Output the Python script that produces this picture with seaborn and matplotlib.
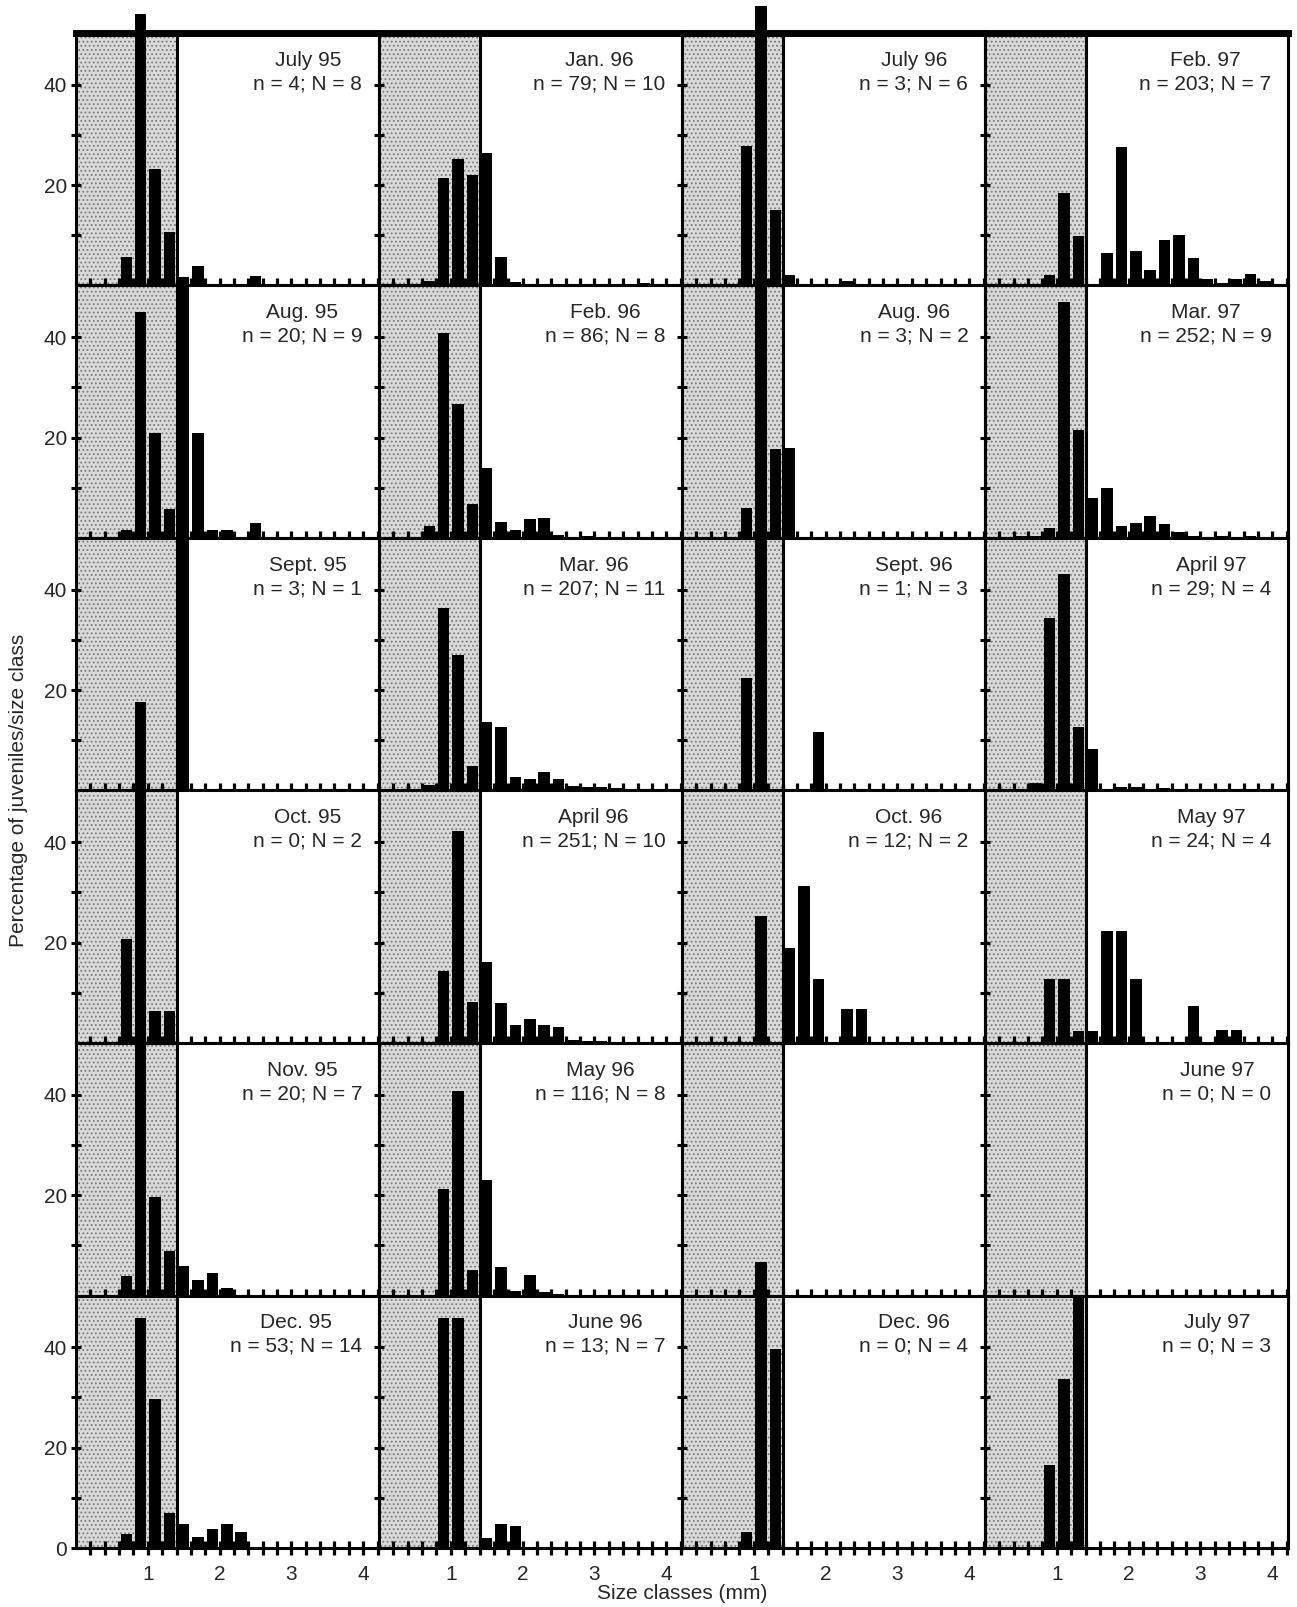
import numpy as np
import matplotlib
matplotlib.use("Agg")
import matplotlib.pyplot as plt
import seaborn as sns

# size classes (mm), bin centres of 0.2 mm classes
size_class = [0.1, 0.3, 0.5, 0.7, 0.9, 1.1, 1.3, 1.5, 1.7, 1.9, 2.1,
              2.3, 2.5, 2.7, 2.9, 3.1, 3.3, 3.5, 3.7, 3.9, 4.1]
bin_edges = [0.0, 0.2, 0.4, 0.6, 0.8, 1.0, 1.2, 1.4, 1.6, 1.8, 2.0, 2.2,
             2.4, 2.6, 2.8, 3.0, 3.2, 3.4, 3.6, 3.8, 4.0, 4.2]

# percentage of juveniles per size class, one list per monthly sample
jul95 = [0, 0, 0, 5.6, 54, 23.2, 10.6, 1.7, 3.8, 0, 0, 0, 1.8, 0, 0, 0, 0, 0, 0, 0, 0]
aug95 = [0, 0, 0, 1.5, 45, 21, 5.8, 51.5, 21, 1.5, 1.5, 0, 3, 0, 0, 0, 0, 0, 0, 0, 0]
sep95 = [0, 0, 0, 0, 17.7, 0, 0, 51.5, 0, 0, 0, 0, 0, 0, 0, 0, 0, 0, 0, 0, 0]
oct95 = [0, 0, 0, 20.7, 51.5, 6.3, 6.3, 0, 0, 0, 0, 0, 0, 0, 0, 0, 0, 0, 0, 0, 0]
nov95 = [0, 0, 0, 3.9, 51.5, 19.7, 8.8, 5.8, 3, 4.5, 1.4, 0, 0, 0, 0, 0, 0, 0, 0, 0, 0]
dec95 = [0, 0, 0, 2.8, 45.8, 29.7, 7, 4.8, 2.1, 3.7, 4.8, 3.2, 0, 0, 0, 0, 0, 0, 0, 0, 0]

jan96 = [0, 0, 0, 0.9, 21.5, 25.2, 22, 26.4, 5.6, 0.7, 0, 0, 0, 0, 0, 0, 0, 0, 0.5, 0, 0]
feb96 = [0, 0, 0, 2.4, 40.8, 26.7, 6.7, 14, 3.2, 1.5, 3.8, 4, 0.5, 0, 0.4, 0, 0, 0, 0, 0, 0]
mar96 = [0, 0, 0, 1.1, 36.4, 27, 4.9, 13.6, 12.6, 2.6, 2.2, 3.7, 2.2, 0.8, 0.6, 0.6, 0.5, 0, 0, 0, 0]
apr96 = [0, 0, 0, 0, 14.3, 42.2, 8.1, 16.2, 7.9, 3.5, 4.7, 3.6, 3.2, 0.6, 0.4, 0.4, 0, 0, 0, 0, 0]
may96 = [0, 0, 0, 0, 21.3, 40.7, 5.1, 23, 5.6, 0.8, 4, 0.6, 0.3, 0, 0, 0, 0, 0, 0, 0, 0]
jun96 = [0, 0, 0, 0, 45.8, 45.8, 0, 1.9, 4.8, 4.3, 0, 0, 0, 0, 0, 0, 0, 0, 0, 0, 0]

jul96 = [0, 0, 0, 0, 27.7, 55.7, 15, 2, 0, 0, 0, 0.9, 0, 0, 0, 0, 0, 0, 0, 0, 0]
aug96 = [0, 0, 0, 0, 6, 51.5, 17.8, 17.9, 0, 0, 0, 0, 0, 0, 0, 0, 0, 0, 0, 0, 0]
sep96 = [0, 0, 0, 0, 22.4, 51.5, 0, 0, 0, 11.6, 0, 0, 0, 0, 0, 0, 0, 0, 0, 0, 0]
oct96 = [0, 0, 0, 0, 0, 25.2, 0, 18.9, 31.3, 12.7, 0, 6.7, 6.7, 0, 0, 0, 0, 0, 0, 0, 0]
nov96 = [0] * 21
dec96 = [0, 0, 0, 0, 3.2, 57, 39.7, 0, 0, 0, 0, 0, 0, 0, 0, 0, 0, 0, 0, 0, 0]

feb97 = [0, 0, 0, 0, 2.1, 18.5, 9.9, 0, 6.5, 27.5, 6.9, 3.1, 9, 10, 5.5, 1.2, 0.5, 1.2, 2.3, 0.8, 0]
mar97 = [0, 0, 0.3, 0.3, 2, 47, 21.5, 8, 10, 2.3, 3, 4.3, 2.7, 1.2, 0.3, 0, 0.3, 0, 0.3, 0, 0]
apr97 = [0, 0, 0, 1.5, 34.4, 43.2, 12.7, 8.3, 0, 0.6, 0.6, 0, 0.4, 0, 0, 0, 0, 0, 0, 0, 0]
may97 = [0, 0, 0, 0, 12.7, 12.7, 2.4, 2.4, 22.4, 22.4, 12.7, 0, 0, 0, 7.4, 0, 2.5, 2.5, 0, 0, 0]
jun97 = [0] * 21
jul97 = [0, 0, 0, 0, 16.6, 33.6, 50.5, 0, 0, 0, 0, 0, 0, 0, 0, 0, 0, 0, 0, 0, 0]

# labels, column by column
col1_labels = ["July 95\nn = 4; N = 8", "Aug. 95\nn = 20; N = 9", "Sept. 95\nn = 3; N = 1",
               "Oct. 95\nn = 0; N = 2", "Nov. 95\nn = 20; N = 7", "Dec. 95\nn = 53; N = 14"]
col2_labels = ["Jan. 96\nn = 79; N = 10", "Feb. 96\nn = 86; N = 8", "Mar. 96\nn = 207; N = 11",
               "April 96\nn = 251; N = 10", "May 96\nn = 116; N = 8", "June 96\nn = 13; N = 7"]
col3_labels = ["July 96\nn = 3; N = 6", "Aug. 96\nn = 3; N = 2", "Sept. 96\nn = 1; N = 3",
               "Oct. 96\nn = 12; N = 2", "", "Dec. 96\nn = 0; N = 4"]
col4_labels = ["Feb. 97\nn = 203; N = 7", "Mar. 97\nn = 252; N = 9", "April 97\nn = 29; N = 4",
               "May 97\nn = 24; N = 4", "June 97\nn = 0; N = 0", "July 97\nn = 0; N = 3"]

columns = [
    (col1_labels, [jul95, aug95, sep95, oct95, nov95, dec95]),
    (col2_labels, [jan96, feb96, mar96, apr96, may96, jun96]),
    (col3_labels, [jul96, aug96, sep96, oct96, nov96, dec96]),
    (col4_labels, [feb97, mar97, apr97, may97, jun97, jul97]),
]

juvenile_limit = 1.4

sns.set_theme(style="ticks")
plt.rcParams["font.family"] = ["Liberation Sans", "DejaVu Sans"]
plt.rcParams["hatch.linewidth"] = 0.8

fig = plt.figure(figsize=(12.97, 16.07), dpi=100)
axes = fig.subplots(6, 4, gridspec_kw=dict(hspace=0, wspace=0))
fig.subplots_adjust(left=0.0586, right=0.9931, bottom=0.0367, top=0.9795)

for c, (labels, series) in enumerate(columns):
    for r in range(6):
        ax = axes[r, c]
        ax.axvspan(0, juvenile_limit, facecolor="#d9d9d9", edgecolor="#7a7a7a",
                   hatch="....", linewidth=0, zorder=0)
        ax.axvline(juvenile_limit, color="black", lw=2.2, zorder=2)
        sns.histplot(x=size_class, weights=series[r], bins=bin_edges, shrink=0.8,
                     color="black", alpha=1, edgecolor="none", linewidth=0,
                     ax=ax, clip_on=False, zorder=3)
        ax.set_xlim(0, 4.22)
        ax.set_ylim(0, 50.3)
        ax.set_xlabel("")
        ax.set_ylabel("")

        xt = np.round(np.arange(0.2, 4.21, 0.2), 1)
        ax.set_xticks(xt)
        if r == 5:
            ax.set_xticklabels([str(int(v)) if abs(v - round(v)) < 1e-6 else "" for v in xt],
                               fontsize=15)
        else:
            ax.set_xticklabels([])
        ax.tick_params(axis="x", direction="inout", length=10, width=2.3,
                       color="black", pad=7)

        if r == 5:
            ax.set_yticks([0, 10, 20, 30, 40])
            ylab = ["0", "", "20", "", "40"]
        else:
            ax.set_yticks([10, 20, 30, 40])
            ylab = ["", "20", "", "40"]
        if c == 0:
            ax.set_yticklabels(ylab, fontsize=15)
        else:
            ax.set_yticklabels([])
        ax.tick_params(axis="y", direction="inout", length=7, width=2.2,
                       color="black", pad=3)

        for side in ["left", "right", "bottom", "top"]:
            ax.spines[side].set_visible(True)
            ax.spines[side].set_color("black")
            ax.spines[side].set_linewidth(2.2)
        if r == 0:
            ax.spines["top"].set_linewidth(5)

        if labels[r]:
            ax.text(0.945, 0.93, labels[r], transform=ax.transAxes, ha="right", va="top",
                    multialignment="center", fontsize=15, linespacing=1.3, zorder=4)

fig.text(0.0145, 0.508, "Percentage of juveniles/size class", rotation=90,
         ha="center", va="center", fontsize=15)
fig.text(0.526, 0.0085, "Size classes (mm)", ha="center", va="center", fontsize=15)

fig.savefig("out.png", dpi=100)
